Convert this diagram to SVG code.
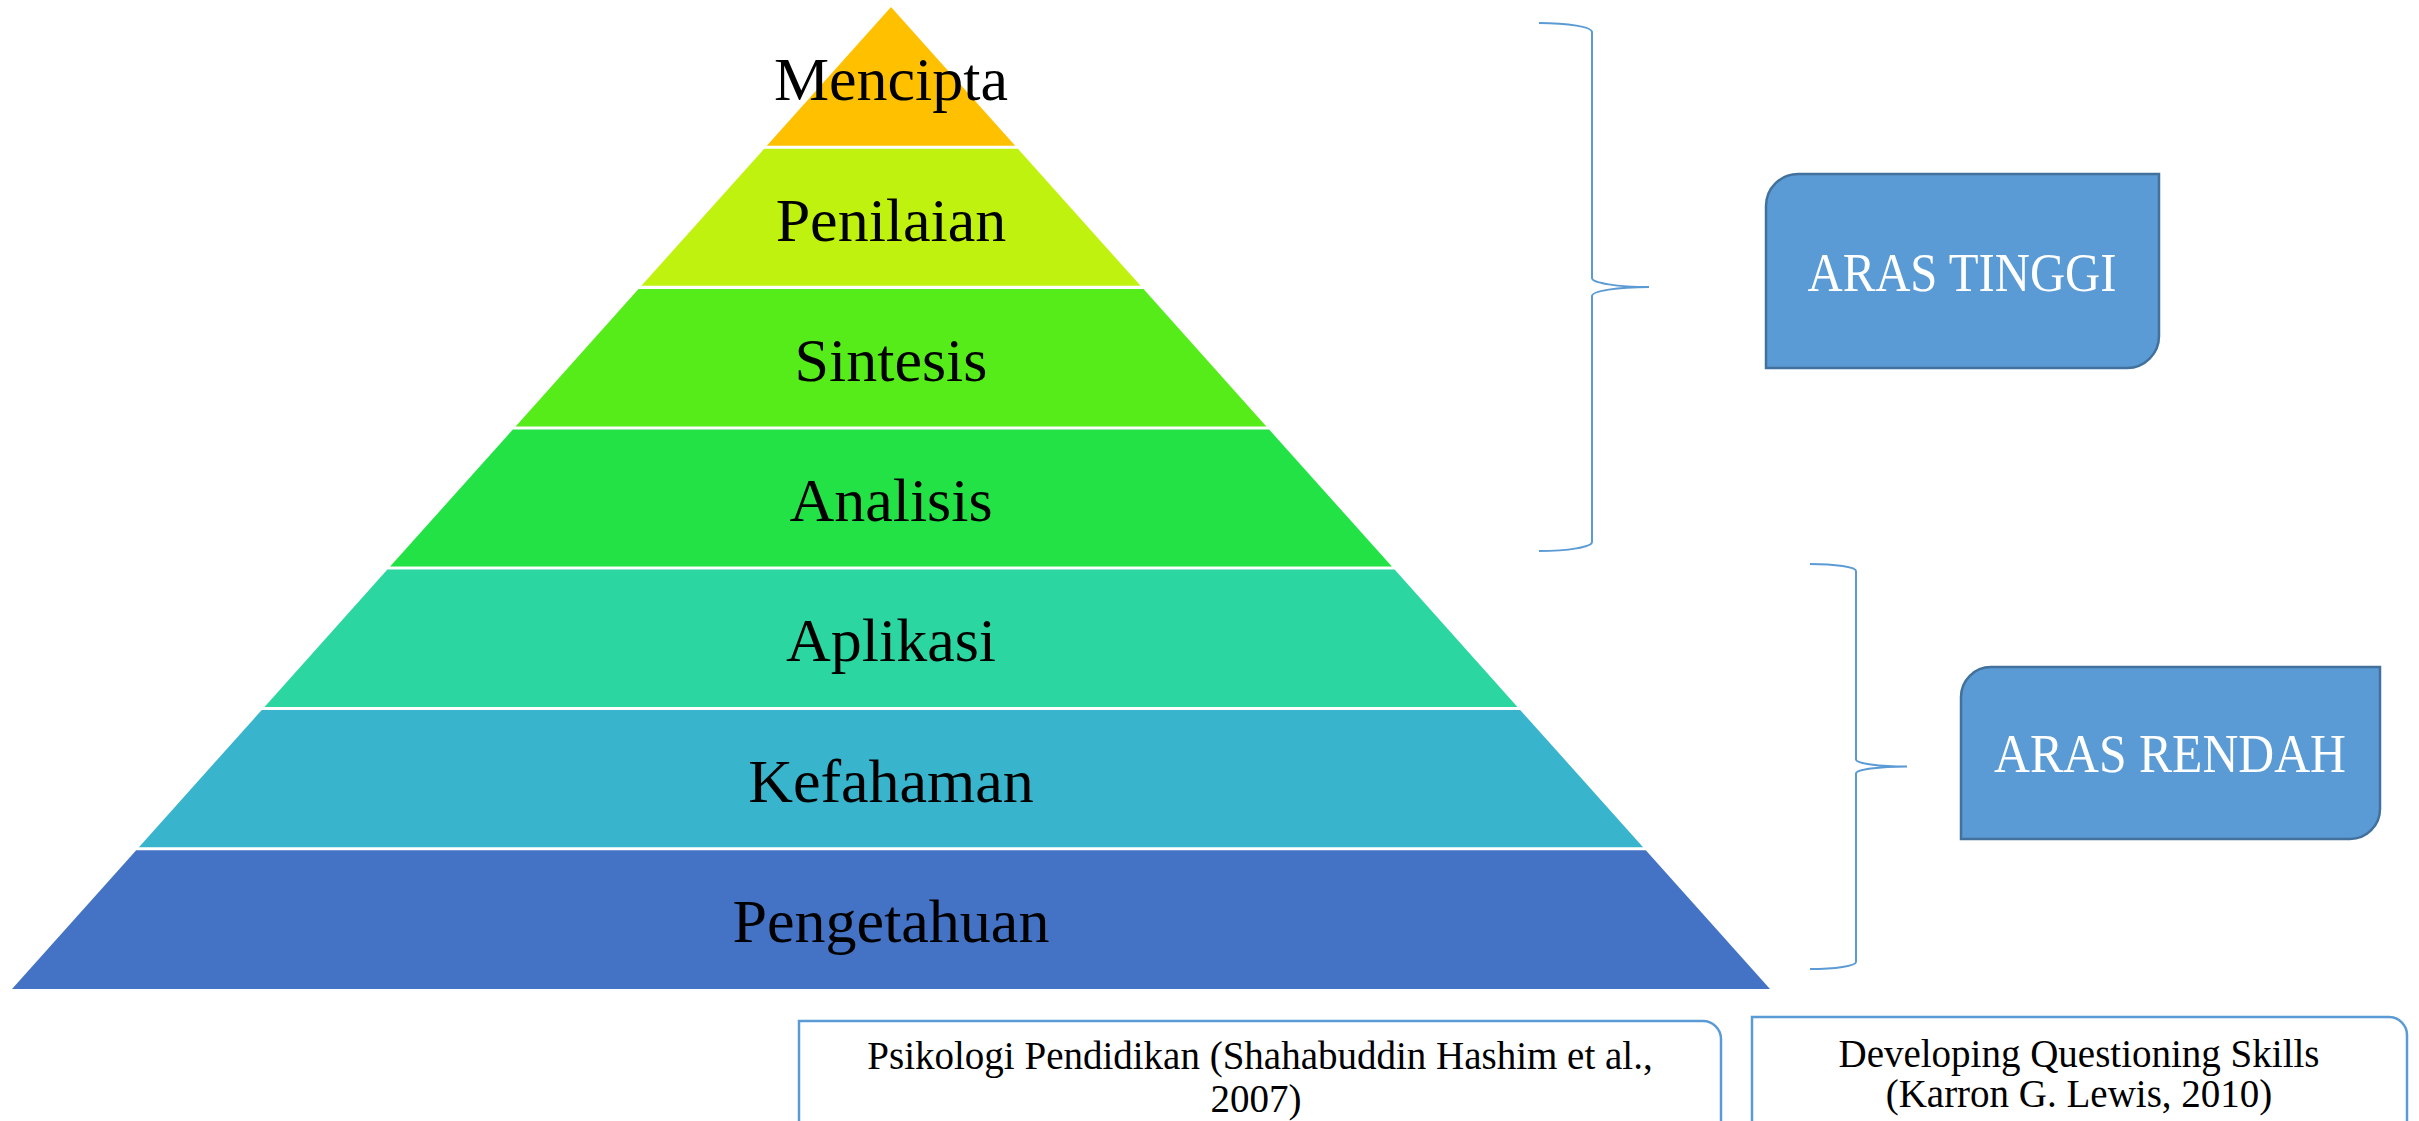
<svg xmlns="http://www.w3.org/2000/svg" width="2419" height="1121" viewBox="0 0 2419 1121">
<style>
.lvl{font-family:"Liberation Serif","DejaVu Serif",serif;font-size:62px;fill:#000;text-anchor:middle}
.brace{fill:none;stroke:#5B9BD5;stroke-width:2}
.aras{fill:#5B9BD5;stroke:#41719C;stroke-width:2.5}
.arastxt{font-family:"Liberation Serif","DejaVu Serif",serif;font-size:55px;fill:#fff;text-anchor:middle}
.ref{fill:#fff;stroke:#5B9BD5;stroke-width:2.5}
.reftxt{font-family:"Liberation Serif","DejaVu Serif",serif;font-size:39px;fill:#000;text-anchor:middle}
</style>
<rect width="2419" height="1121" fill="#fff"/>
<g id="pyramid">
<g id="mencipta"><polygon points="891,7 1015.2,145.8 766.8,145.8" fill="#FFC000"/><text class="lvl" x="891" y="100">Mencipta</text></g>
<g id="penilaian"><polygon points="764.1,148.8 1017.9,148.8 1140.6,285.8 641.4,285.8" fill="#C0F20F"/><text class="lvl" x="891" y="241">Penilaian</text></g>
<g id="sintesis"><polygon points="638.5,289.1 1143.5,289.1 1266.4,426.4 515.6,426.4" fill="#55EC1A"/><text class="lvl" x="891" y="381">Sintesis</text></g>
<g id="analisis"><polygon points="512.9,429.4 1269.1,429.4 1391.9,566.6 390.1,566.6" fill="#22E245"/><text class="lvl" x="891" y="521">Analisis</text></g>
<g id="aplikasi"><polygon points="387.4,569.6 1394.6,569.6 1517.5,706.9 264.5,706.9" fill="#2BD6A0"/><text class="lvl" x="891" y="661">Aplikasi</text></g>
<g id="kefahaman"><polygon points="261.8,709.9 1520.2,709.9 1643.1,847.2 138.9,847.2" fill="#38B4CD"/><text class="lvl" x="891" y="802">Kefahaman</text></g>
<g id="pengetahuan"><polygon points="136.2,850.2 1645.8,850.2 1770,989 12,989" fill="#4472C4"/><text class="lvl" x="891" y="942">Pengetahuan</text></g>
</g>
<g id="connectors">
<path class="brace" d="M1539,23 A53,9 0 0 1 1592,32 L1592,278 A57,9 0 0 0 1649,287 A57,9 0 0 0 1592,296 L1592,542 A53,9 0 0 1 1539,551"/>
<path class="brace" d="M1810,564 A46,7 0 0 1 1856,571 L1856,759.5 A51,7 0 0 0 1907,766.5 A51,7 0 0 0 1856,773.5 L1856,962 A46,7 0 0 1 1810,969"/>
</g>
<g id="aras-tinggi">
<path class="aras" d="M1798,174 H2159 V336 A32,32 0 0 1 2127,368 H1766 V206 A32,32 0 0 1 1798,174 Z"/>
<text class="arastxt" x="1962" y="291" textLength="309" lengthAdjust="spacingAndGlyphs">ARAS TINGGI</text>
</g>
<g id="aras-rendah">
<path class="aras" d="M1991,667 H2380 V809 A30,30 0 0 1 2350,839 H1961 V697 A30,30 0 0 1 1991,667 Z"/>
<text class="arastxt" x="2170" y="772" textLength="352" lengthAdjust="spacingAndGlyphs">ARAS RENDAH</text>
</g>
<g id="ref-psikologi">
<path class="ref" d="M799,1140 V1021 H1703 A18,18 0 0 1 1721,1039 V1140"/>
<text class="reftxt" x="1260" y="1069">Psikologi Pendidikan (Shahabuddin Hashim et al.,</text>
<text class="reftxt" x="1256" y="1112">2007)</text>
</g>
<g id="ref-developing">
<path class="ref" d="M1752,1140 V1017 H2389 A18,18 0 0 1 2407,1035 V1140"/>
<text class="reftxt" x="2079" y="1067">Developing Questioning Skills</text>
<text class="reftxt" x="2079" y="1107">(Karron G. Lewis, 2010)</text>
</g>
</svg>
